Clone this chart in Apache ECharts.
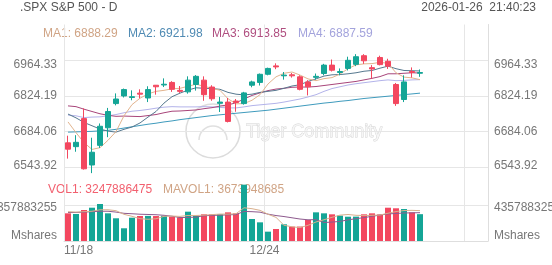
<!DOCTYPE html>
<html><head><meta charset="utf-8">
<script src="https://cdn.jsdelivr.net/npm/echarts@6/dist/echarts.min.js"></script>
<style>html,body{margin:0;padding:0;background:#fff}#c{width:552px;height:265px}</style>
</head><body><div id="c"></div>
<script>
// ---- data ----
const dates = ['11/18','11/19','11/20','11/21','11/24','11/25','11/26','11/28','12/01','12/02','12/03','12/04','12/05','12/08','12/09','12/10','12/11','12/12','12/15','12/16','12/17','12/18','12/19','12/22','12/23','12/24','12/26','12/29','12/30','12/31','01/02','01/05','01/06','01/07','01/08','01/09','01/12','01/13','01/14','01/15','01/16','01/20','01/21','01/22','01/23'];
const emptySlots = 8;
const xTickLabels = ['11/18','12/24'];
const opens  = [6640,6625,6735,6553,6630,6699,6794,6824,6818,6835,6816,6866,6867,6877,6846,6840,6869,6886,6859,6795,6800,6804,6794,6866,6877,6909,6942,6903,6907,6899,6879,6897,6912,6945,6916,6932,6948,6982,6935,6975,6960,6869,6810,6920,6913];
const closes = [6615,6642,6538,6603,6705,6763,6812,6849,6821,6831,6849,6860,6870,6850,6842,6886,6901,6829,6813,6800,6724,6798,6836,6879,6909,6932,6938,6906,6903,6850,6860,6901,6945,6925,6920,6964,6978,6962,6930,6947,6941,6794,6879,6916,6916];
const highs  = [6668,6670,6775,6660,6716,6777,6834,6853,6846,6850,6862,6867,6893,6882,6863,6901,6906,6901,6866,6820,6816,6812,6840,6884,6912,6935,6952,6918,6914,6905,6886,6912,6950,6967,6932,6978,6988,6988,6945,6982,6970,6875,6905,6936,6928];
const lows   = [6578,6605,6535,6521,6620,6662,6787,6818,6807,6815,6800,6829,6859,6840,6836,6833,6845,6805,6805,6761,6720,6762,6790,6858,6865,6905,6929,6888,6896,6846,6826,6888,6905,6920,6905,6924,6941,6950,6892,6944,6930,6785,6800,6896,6899];
const ma1 = [6722,6680,6641,6614,6621,6650,6684,6746,6790,6815,6832,6842,6846,6852,6854,6862,6870,6862,6854,6846,6813,6793,6794,6807,6829,6871,6899,6913,6918,6906,6891,6884,6892,6896,6910,6931,6946,6950,6951,6956,6952,6915,6898,6895,6888];
const ma2 = [6753,6738,6720,6707,6694,6686,6682,6693,6702,6718,6741,6763,6796,6821,6835,6847,6856,6854,6853,6850,6838,6831,6828,6831,6838,6842,6846,6854,6863,6868,6881,6891,6902,6907,6908,6911,6915,6921,6924,6933,6941,6931,6924,6923,6922];
const ma3 = [6785,6782,6772,6763,6754,6748,6744,6745,6744,6743,6747,6751,6758,6764,6765,6767,6769,6774,6778,6784,6789,6797,6812,6826,6836,6845,6851,6854,6858,6859,6859,6861,6865,6869,6873,6877,6881,6887,6893,6900,6911,6911,6913,6915,6914];
const ma4 = [6749,6746,6739,6741,6742,6746,6751,6758,6764,6767,6771,6776,6780,6782,6781,6781,6781,6782,6781,6779,6777,6777,6781,6786,6789,6792,6795,6800,6806,6812,6820,6829,6842,6853,6860,6867,6872,6876,6880,6884,6887,6884,6885,6887,6888];
const ma5 = [6682,6683,6684,6685,6687,6689,6693,6698,6703,6708,6713,6717,6722,6726,6731,6735,6739,6743,6747,6750,6753,6756,6759,6762,6765,6768,6772,6776,6780,6784,6788,6792,6796,6799,6803,6806,6810,6814,6817,6820,6823,6826,6829,6832,6835];
const volumes = [3350000000,3270000000,3750000000,4030000000,4480000000,3350000000,2750000000,1540000000,2820000000,3030000000,3040000000,3020000000,3050000000,2940000000,2860000000,3550000000,3070000000,3230000000,3220000000,3240000000,3470000000,3350000000,6820000000,2660000000,2260000000,1130000000,1450000000,2020000000,1740000000,1750000000,2540000000,3470000000,3350000000,3230000000,3070000000,2940000000,2950000000,3230000000,3350000000,3220000000,4030000000,3960000000,3870000000,3470000000,3247886475];
const mavol1 = [3.55e9,3.50e9,3.55e9,3.60e9,3.78e9,3.78e9,3.67e9,3.23e9,2.99e9,2.70e9,2.63e9,2.69e9,2.99e9,3.02e9,2.98e9,3.09e9,3.09e9,3.13e9,3.19e9,3.26e9,3.25e9,3.30e9,4.02e9,3.91e9,3.71e9,3.24e9,2.86e9,1.90e9,1.72e9,1.62e9,1.90e9,2.30e9,2.57e9,2.87e9,3.13e9,3.21e9,3.11e9,3.08e9,3.11e9,3.14e9,3.36e9,3.56e9,3.69e9,3.71e9,3.674e9];
const mavol2 = [3.45e9,3.45e9,3.50e9,3.55e9,3.60e9,3.60e9,3.50e9,3.35e9,3.30e9,3.24e9,3.21e9,3.18e9,3.11e9,3.00e9,2.84e9,2.86e9,2.89e9,3.06e9,3.10e9,3.12e9,3.17e9,3.20e9,3.58e9,3.55e9,3.49e9,3.25e9,3.08e9,2.96e9,2.81e9,2.66e9,2.57e9,2.58e9,2.24e9,2.29e9,2.37e9,2.56e9,2.70e9,2.83e9,2.99e9,3.14e9,3.28e9,3.33e9,3.39e9,3.41e9,3.43e9];
const priceTickLabels = ['6543.92','6684.06','6824.19','6964.33'];
const priceAxis = {min: 6403.785, max: 7104.46, interval: 140.135};
const volTickLabels = ['Mshares','4357883255'];
const volAxis = {min: 0, max: 8715766510, interval: 4357883255};
const maLegend = [['MA1: 6888.29','#d0a485'],['MA2: 6921.98','#4f8ab3'],['MA3: 6913.85','#b04f80'],['MA4: 6887.59','#a3a3dc']];
const volLegend = [['VOL1: 3247886475','#f2606f'],['MAVOL1: 3673948685','#d0a485']];

// ---- chart ----
const UP = '#14a596', DOWN = '#f3475f';
const FONT = 'Arial, "Liberation Sans", sans-serif';
const GRIDC = '#e6e6e6';
const cats = dates.concat(Array.from({length: emptySlots}, (_, i) => '\u200b' + i));
const isUp = dates.map((d, i) => closes[i] >= opens[i]);

const priceLbl = (v, i) => { const t = priceTickLabels[i - 1]; return t ? '{p' + (i - 1) + '|' + t + '}' : ''; };
const volLbl = (v, i) => i === 0 ? '{m|' + volTickLabels[0] + '}' : (i === 1 ? '{v|' + volTickLabels[1] + '}' : '');
const base = {fontSize: 12, color: '#777', fontFamily: FONT};
const lblRich = {
  p0: Object.assign({padding: [0, 0, 4, 0]}, base),
  p1: Object.assign({}, base),
  p2: Object.assign({}, base),
  p3: Object.assign({padding: [8, 0, 0, 0]}, base),
  m: Object.assign({padding: [0, 0, 11, 0]}, base),
  v: Object.assign({padding: [6, 0, 0, 0]}, base)
};

const catAxis = (grid, showLabels) => ({
  type: 'category', gridIndex: grid, data: cats, boundaryGap: true,
  axisLine: {show: showLabels, lineStyle: {color: '#dedede'}},
  axisTick: {show: false},
  axisLabel: showLabels ? {
    interval: (i, v) => xTickLabels.indexOf(v) >= 0,
    formatter: v => v === xTickLabels[0] ? '{a|' + v + '}' : (v === xTickLabels[1] ? '{b|' + v + '}' : ''),
    margin: 4,
    rich: {
      a: Object.assign({padding: [0, 0, 0, 21]}, base),
      b: Object.assign({padding: [0, 7, 0, 0]}, base)
    }
  } : {show: false},
  splitLine: {show: true, interval: i => i % 25 === 0, lineStyle: {color: GRIDC, width: 1}}
});

const valAxis = (grid, pos, range, fmt, split) => Object.assign({
  type: 'value', gridIndex: grid, position: pos, scale: true,
  axisLine: {show: pos === 'right', lineStyle: {color: '#dedede'}},
  axisTick: {show: false},
  axisLabel: {formatter: fmt, margin: pos === 'left' ? 7 : 6, rich: lblRich, showMinLabel: true, showMaxLabel: true, hideOverlap: false},
  splitLine: {show: split, showMinLine: false, showMaxLine: false, lineStyle: {color: GRIDC, width: 1}}
}, range);

const lineS = (data, color, xi, yi) => ({
  type: 'line', data, xAxisIndex: xi, yAxisIndex: yi, symbol: 'none', showSymbol: false,
  lineStyle: {color, width: 1}, silent: true, z: 3
});

const text = (x, y, s, color, align) => ({
  type: 'text', x, y, silent: true,
  style: {text: s, fill: color, font: '12px ' + FONT, textAlign: align || 'left', textVerticalAlign: 'middle'}
});

const chart = echarts.init(document.getElementById('c'), null, {renderer: 'canvas'});
chart.setOption({
  animation: false,
  backgroundColor: '#fff',
  grid: [
    {left: 64, right: 64, top: 24.5, bottom: 62, containLabel: false, outerBoundsMode: 'none'},
    {left: 64, right: 64, top: 169, bottom: 24, containLabel: false, outerBoundsMode: 'none'}
  ],
  xAxis: [catAxis(0, false), catAxis(1, true)],
  yAxis: [
    valAxis(0, 'left', priceAxis, priceLbl, true),
    valAxis(0, 'right', priceAxis, priceLbl, false),
    valAxis(1, 'left', volAxis, volLbl, true),
    valAxis(1, 'right', volAxis, volLbl, false)
  ],
  graphic: [
    {type: 'circle', shape: {cx: 213, cy: 131, r: 27}, style: {fill: 'none', stroke: '#dcdcdc', lineWidth: 1.5}, silent: true, z: 0},
    {type: 'arc', shape: {cx: 213, cy: 140, r: 14, startAngle: Math.PI, endAngle: 2 * Math.PI}, style: {fill: 'none', stroke: '#e0e0e0', lineWidth: 1.5}, silent: true, z: 0},
    {type: 'text', x: 246, y: 132, silent: true, z: 0,
      style: {text: 'Tiger Community', font: '18px ' + FONT, fill: '#f6f6f6', stroke: '#d2d2d2', lineWidth: 0.8, textVerticalAlign: 'middle'}},
    text(20, 8, '.SPX S&P 500 - D', '#555'),
    text(536, 8, '2026-01-26  21:40:23', '#555', 'right'),
    text(43, 34, maLegend[0][0], maLegend[0][1]),
    text(128, 34, maLegend[1][0], maLegend[1][1]),
    text(212, 34, maLegend[2][0], maLegend[2][1]),
    text(298, 34, maLegend[3][0], maLegend[3][1]),
    text(48, 190, volLegend[0][0], volLegend[0][1]),
    text(163, 190, volLegend[1][0], volLegend[1][1])
  ],
  series: [
    lineS(ma5, '#3f9bbd', 0, 0),
    lineS(ma4, '#b3b3ea', 0, 0),
    lineS(ma3, '#a8457a', 0, 0),
    lineS(ma2, '#56788f', 0, 0),
    lineS(ma1, '#e2b48e', 0, 0),
    {
      type: 'candlestick', xAxisIndex: 0, yAxisIndex: 0, barWidth: 6, z: 4,
      data: dates.map((d, i) => [opens[i], closes[i], lows[i], highs[i]]),
      itemStyle: {color: UP, color0: DOWN, borderColor: UP, borderColor0: DOWN, borderWidth: 1}
    },
    {
      type: 'bar', xAxisIndex: 1, yAxisIndex: 2, barWidth: 6, z: 2,
      data: volumes.map((v, i) => ({value: v, itemStyle: {color: isUp[i] ? UP : DOWN}}))
    },
    lineS(mavol2, '#8e5a8e', 1, 2),
    lineS(mavol1, '#d9b08e', 1, 2)
  ]
});
</script>
</body></html>
